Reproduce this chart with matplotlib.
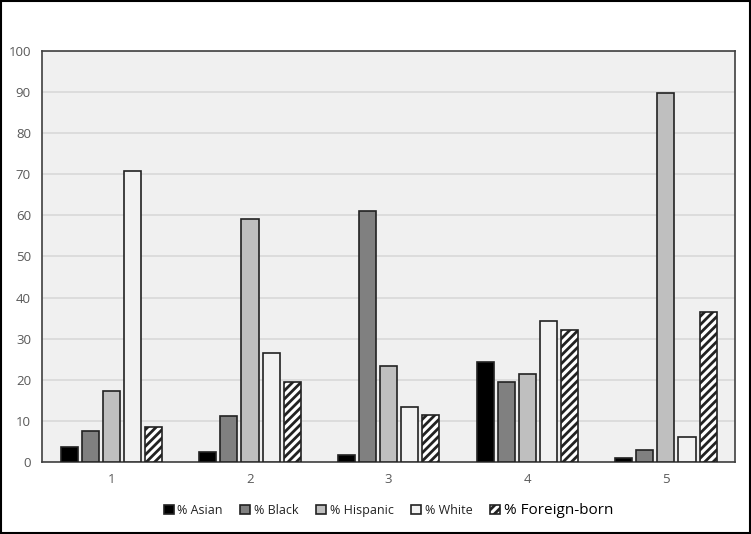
import matplotlib
matplotlib.use("Agg")
import matplotlib.pyplot as plt
import numpy as np

plt.rcParams['font.family'] = ['Open Sans', 'DejaVu Sans']
plt.rcParams['hatch.linewidth'] = 2.0

groups = ["1", "2", "3", "4", "5"]
series = ["% Asian", "% Black", "% Hispanic", "% White", "% Foreign-born"]
asian = [3.6, 2.4, 1.8, 24.3, 1.0]
black = [7.5, 11.2, 61.0, 19.5, 3.0]
hispanic = [17.3, 59.1, 23.3, 21.4, 89.8]
white = [70.8, 26.5, 13.4, 34.3, 6.1]
foreign = [8.5, 19.5, 11.4, 32.0, 36.5]

values = [asian, black, hispanic, white, foreign]
colors = ["#000000", "#808080", "#bfbfbf", "#f2f2f2", "#ffffff"]
hatches = [None, None, None, None, "////"]

fig = plt.figure(figsize=(7.51, 5.34), dpi=100)
ax = fig.add_axes([0.056, 0.135, 0.923, 0.7695])
ax.set_facecolor("#f0f0f0")

x = np.arange(len(groups))
step = 0.152
width = 0.123
handles = []
for i, (vals, c, h) in enumerate(zip(values, colors, hatches)):
    b = ax.bar(x + (i - 2) * step, vals, width, color=c, edgecolor="#222222",
               linewidth=1.2, hatch=h, label=series[i], zorder=3)
    handles.append(b)

ax.set_xlim(-0.5, 4.5)
ax.set_ylim(0, 100)
ax.set_yticks(np.arange(0, 101, 10))
ax.set_xticks(x)
ax.set_xticklabels(groups)
ax.yaxis.grid(True, color="#d9d9d9", linewidth=1.2, zorder=0)
ax.set_axisbelow(True)
for s in ax.spines.values():
    s.set_color("#404040")
    s.set_linewidth(1.2)
ax.tick_params(axis='both', length=0, labelsize=9.5, labelcolor="#595959", pad=8)

leg = ax.legend(handles=handles, loc='center', bbox_to_anchor=(0.5, -0.118),
                ncol=5, frameon=False, fontsize=9, handlelength=0.8,
                handleheight=0.8, handletextpad=0.3, columnspacing=1.4)
for i, t in enumerate(leg.get_texts()):
    if i == 4:
        t.set_fontsize(11)
        t.set_color("#000000")
    else:
        t.set_color("#222222")

fig.patches.append(plt.Rectangle((0.001, 0.001), 0.998, 0.997, transform=fig.transFigure,
                                 fill=False, edgecolor="black", linewidth=1.5))

fig.savefig("out.png", dpi=100)
